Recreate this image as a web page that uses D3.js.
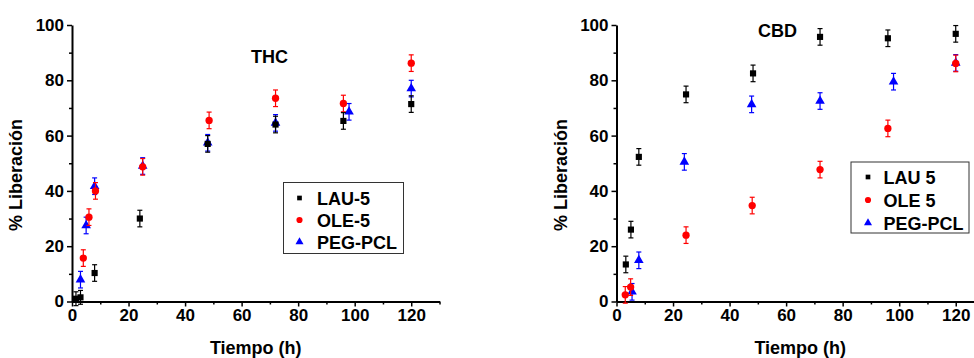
<!DOCTYPE html>
<html>
<head>
<meta charset="utf-8">
<script src="https://cdn.jsdelivr.net/npm/d3@7"></script>
<style>
body { margin: 0; background: #fff; }
svg { display: block; }
text { font-family: "Liberation Sans", Arial, sans-serif; font-weight: bold; fill: #000; }
</style>
</head>
<body>
<div id="chart-area"></div>
<script>
// THC release
var thcLauT = [1.4, 3, 8, 24, 48, 72, 96, 120];
var thcLau = [1, 1.5, 10.3, 30, 57, 64, 65.3, 71.4];
var thcLauErr = [2.5, 2.5, 3, 3, 3, 3, 3, 3];
var thcOleT = [4, 6, 8.3, 25, 48.5, 72, 96, 120];
var thcOle = [15.7, 30.5, 40, 48.7, 65.5, 73.5, 71.6, 86.2];
var thcOleErr = [3, 3, 3, 3, 3, 3, 3, 3];
var thcPegT = [3, 5, 8, 25, 48, 72, 98, 120];
var thcPeg = [7.9, 27.5, 41.7, 49, 57.4, 64.6, 68.6, 77];
var thcPegErr = [3, 3, 3, 3, 3, 3, 3, 3];

// CBD release
var cbdLauT = [3.3, 5.1, 7.9, 24.6, 48.3, 72, 96, 120];
var cbdLau = [13.4, 26, 52.3, 74.9, 82.5, 95.7, 95.2, 96.8];
var cbdLauErr = [3, 3, 3, 3, 3, 3, 3, 3];
var cbdOleT = [3.1, 5, 24.6, 48, 72, 96, 120];
var cbdOle = [2.4, 5.2, 24, 34.7, 47.7, 62.6, 86.1];
var cbdOleErr = [3, 3, 3, 3, 3, 3, 3];
var cbdPegT = [5.5, 7.9, 24, 47.8, 72, 98, 120];
var cbdPeg = [3.5, 14.9, 50.5, 71.3, 72.5, 79.5, 86.3];
var cbdPegErr = [3, 3, 3, 3, 3, 3, 3];

var xMajor = [0, 20, 40, 60, 80, 100, 120];
var xMinor = [10, 30, 50, 70, 90, 110, 130];
var yMajor = [0, 20, 40, 60, 80, 100];
var yMinor = [10, 30, 50, 70, 90];

function zip(t, v, e) {
    return t.map((d, i) => ({t: d, v: v[i], e: e[i]}));
}

var svg = d3.select("#chart-area")
    .append("svg")
    .attr("width", 974)
    .attr("height", 358);

var panels = [
    {left: 72, title: "THC", titleX: 251, titleY: 62.5, labels: ["LAU-5", "OLE-5", "PEG-PCL"],
     leg: {x: 283.5, y: 182.5, w: 120, h: 71, sx: 299.5, tx: 317, rows: [198, 220, 242]},
     series: [zip(thcPegT, thcPeg, thcPegErr), zip(thcOleT, thcOle, thcOleErr), zip(thcLauT, thcLau, thcLauErr)]},
    {left: 616.5, title: "CBD", titleX: 758, titleY: 36.5, labels: ["LAU 5", "OLE 5", "PEG-PCL"],
     leg: {x: 851, y: 162, w: 118, h: 71, sx: 868, tx: 883.5, rows: [177, 200, 223]},
     series: [zip(cbdPegT, cbdPeg, cbdPegErr), zip(cbdOleT, cbdOle, cbdOleErr), zip(cbdLauT, cbdLau, cbdLauErr)]}
];

var colors = ["#0000ff", "#ff0000", "#000000"];
var shapes = [d3.symbolTriangle, d3.symbolCircle, d3.symbolSquare];
var sizes = [40, 42, 38];

panels.forEach((p) => {
    var x = d3.scaleLinear().domain([0, 130]).range([p.left, p.left + 367.5]);
    var y = d3.scaleLinear().domain([0, 100]).range([301.5, 25]);

    var g = svg.append("g");

    // minor ticks
    g.append("g")
        .attr("transform", "translate(0, 301.5)")
        .call(d3.axisBottom(x).tickValues(xMinor).tickSize(3).tickFormat(""))
        .call((a) => a.select(".domain").remove());
    g.append("g")
        .attr("transform", "translate(" + p.left + ", 0)")
        .call(d3.axisLeft(y).tickValues(yMinor).tickSize(3).tickFormat(""))
        .call((a) => a.select(".domain").remove());

    var xAxis = g.append("g")
        .attr("transform", "translate(0, 301.5)")
        .call(d3.axisBottom(x).tickValues(xMajor).tickSize(5).tickSizeOuter(0).tickPadding(2));
    var yAxis = g.append("g")
        .attr("transform", "translate(" + p.left + ", 0)")
        .call(d3.axisLeft(y).tickValues(yMajor).tickSize(5).tickSizeOuter(0).tickPadding(3));

    g.selectAll(".domain").attr("stroke-width", 2);
    g.selectAll(".tick line").attr("stroke-width", 1.5);
    xAxis.selectAll("text").attr("font-size", "17px").attr("font-family", "Liberation Sans, Arial, sans-serif").attr("font-weight", "bold");
    yAxis.selectAll("text").attr("font-size", "17px").attr("font-family", "Liberation Sans, Arial, sans-serif").attr("font-weight", "bold");

    g.append("text")
        .attr("x", x(65))
        .attr("y", 353.5)
        .attr("text-anchor", "middle")
        .attr("font-size", "18px")
        .text("Tiempo (h)");

    g.append("text")
        .attr("transform", "translate(" + (p.left - 50) + ", 175) rotate(-90)")
        .attr("text-anchor", "middle")
        .attr("font-size", "18px")
        .text("% Liberación");

    g.append("text")
        .attr("x", p.titleX)
        .attr("y", p.titleY)
        .attr("font-size", "18px")
        .text(p.title);

    p.series.forEach((data, si) => {
        var s = g.append("g");
        var eb = s.selectAll(".err").data(data).enter().append("g")
            .attr("stroke", colors[si]).attr("stroke-width", 1.2);
        eb.append("line")
            .attr("x1", (d) => x(d.t)).attr("x2", (d) => x(d.t))
            .attr("y1", (d) => y(d.v - d.e)).attr("y2", (d) => y(d.v + d.e));
        eb.append("line")
            .attr("x1", (d) => x(d.t) - 2.5).attr("x2", (d) => x(d.t) + 2.5)
            .attr("y1", (d) => y(d.v - d.e)).attr("y2", (d) => y(d.v - d.e));
        eb.append("line")
            .attr("x1", (d) => x(d.t) - 2.5).attr("x2", (d) => x(d.t) + 2.5)
            .attr("y1", (d) => y(d.v + d.e)).attr("y2", (d) => y(d.v + d.e));
        s.selectAll("path.pt").data(data).enter().append("path")
            .attr("class", "pt")
            .attr("d", d3.symbol().type(shapes[si]).size(sizes[si]))
            .attr("transform", (d) => "translate(" + x(d.t) + "," + y(d.v) + ")")
            .attr("fill", colors[si]);
    });

    // legend
    var L = p.leg;
    g.append("rect")
        .attr("x", L.x).attr("y", L.y).attr("width", L.w).attr("height", L.h)
        .attr("fill", "#fff").attr("stroke", "#333").attr("stroke-width", 1);
    var legShapes = [d3.symbolSquare, d3.symbolCircle, d3.symbolTriangle];
    var legColors = ["#000000", "#ff0000", "#0000ff"];
    var legSizes = [22, 30, 28];
    p.labels.forEach((lab, i) => {
        g.append("path")
            .attr("d", d3.symbol().type(legShapes[i]).size(legSizes[i]))
            .attr("transform", "translate(" + L.sx + "," + L.rows[i] + ")")
            .attr("fill", legColors[i]);
        g.append("text")
            .attr("x", L.tx)
            .attr("y", L.rows[i] + 6.5)
            .attr("font-size", "18px")
            .text(lab);
    });
});
</script>
</body>
</html>
